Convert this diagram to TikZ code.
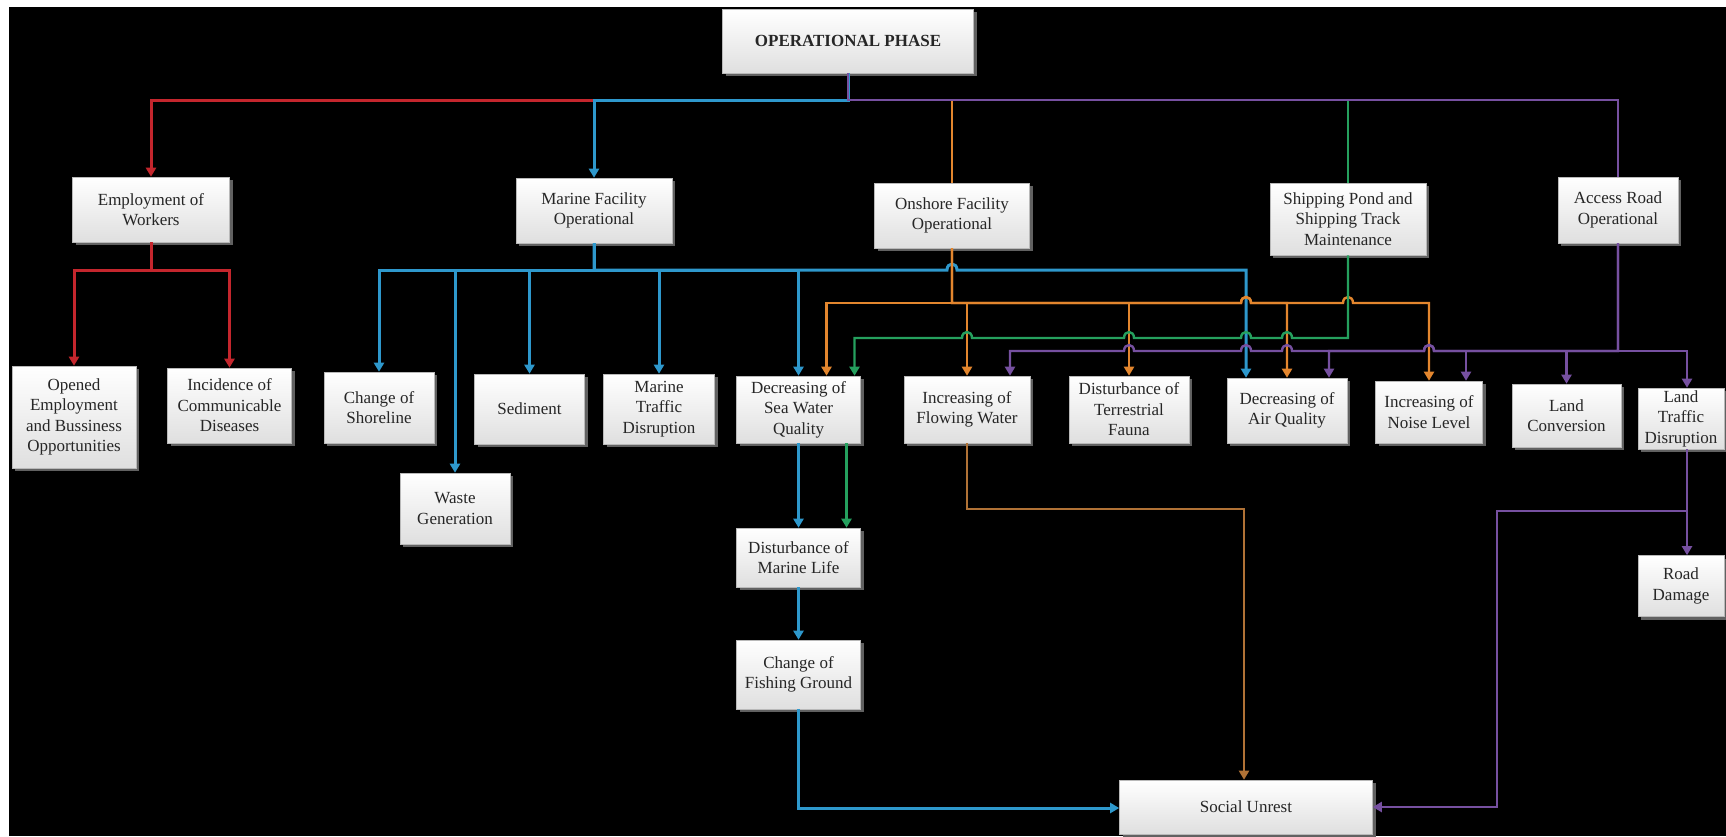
\documentclass[tikz,border=0pt]{standalone}
\usepackage{fontspec}
\setmainfont{Liberation Serif}
\usetikzlibrary{arrows.meta,shadows}
\definecolor{lred}{HTML}{C4262D}
\definecolor{lblue}{HTML}{2E98CC}
\definecolor{lorange}{HTML}{E3862E}
\definecolor{lgreen}{HTML}{25A05E}
\definecolor{lpurple}{HTML}{7650A0}
\definecolor{lbrown}{HTML}{B07236}
\definecolor{boxtext}{HTML}{262626}
\tikzset{
  hopR/.style args={#1/#2}{insert path={-- (#1-5,#2) .. controls (#1-5,#2-8) and (#1+5,#2-8) .. (#1+5,#2)}},
  hopL/.style args={#1/#2}{insert path={-- (#1+5,#2) .. controls (#1+5,#2-8) and (#1-5,#2-8) .. (#1-5,#2)}}
}
\begin{document}
\begin{tikzpicture}[x=1pt,y=-1pt,
  box/.style={draw=gray!55, line width=0.6pt, top color=white, bottom color=gray!25,
    text=boxtext, font=\fontsize{17}{20.5}\selectfont, align=center, inner sep=2pt,
    drop shadow={shadow xshift=3pt, shadow yshift=-3pt, fill=black!62!white, opacity=1}},
  arr/.style={-{Triangle[width=10pt,length=9pt]}},
  wred/.style={draw=lred, line width=3pt},
  wblue/.style={draw=lblue, line width=3pt},
  worange/.style={draw=lorange, line width=2.4pt},
  wgreen/.style={draw=lgreen, line width=2.4pt},
  wpurple/.style={draw=lpurple, line width=2.4pt},
  wbrown/.style={draw=lbrown, line width=2.2pt}]

% canvas
\useasboundingbox (0,0) rectangle (1726,836);
\fill[white] (0,0) rectangle (1726,836);
\fill[black] (9,7) rectangle (1726,836);

% boxes
\node[box, minimum width=251pt, minimum height=64pt] (op) at (848,41) {\textbf{OPERATIONAL PHASE}};
\node[box, minimum width=157pt, minimum height=65pt] (emp) at (151,209.5) {Employment of\\Workers};
\node[box, minimum width=156pt, minimum height=65pt] (mar) at (594,210.5) {Marine Facility\\Operational};
\node[box, minimum width=155pt, minimum height=65pt] (ons) at (952,215.5) {Onshore Facility\\Operational};
\node[box, minimum width=156pt, minimum height=72pt] (shp) at (1348,219) {Shipping Pond and\\Shipping Track\\Maintenance};
\node[box, minimum width=120pt, minimum height=66pt] (acc) at (1618,210) {Access Road\\Operational};

\node[box, minimum width=124pt, minimum height=102pt] (opn) at (74,417) {Opened\\Employment\\and Bussiness\\Opportunities};
\node[box, minimum width=124pt, minimum height=75pt] (inc) at (229.5,405.5) {Incidence of\\Communicable\\Diseases};
\node[box, minimum width=110pt, minimum height=71pt] (sho) at (379,407.5) {Change of\\Shoreline};
\node[box, minimum width=110pt, minimum height=70pt] (sed) at (529.5,409) {Sediment};
\node[box, minimum width=110pt, minimum height=71pt] (was) at (455,508.5) {Waste\\Generation};
\node[box, minimum width=111pt, minimum height=70pt] (mtd) at (659,409) {Marine\\Traffic\\Disruption};
\node[box, minimum width=124pt, minimum height=67pt] (swq) at (798.5,409.5) {Decreasing of\\Sea Water\\Quality};
\node[box, minimum width=126pt, minimum height=67pt] (flw) at (967,409.5) {Increasing of\\Flowing Water};
\node[box, minimum width=120pt, minimum height=67pt] (ter) at (1129,409.5) {Disturbance of\\Terrestrial\\Fauna};
\node[box, minimum width=120pt, minimum height=65pt] (air) at (1287,410.5) {Decreasing of\\Air Quality};
\node[box, minimum width=107pt, minimum height=62pt] (noi) at (1429,412) {Increasing of\\Noise Level};
\node[box, minimum width=109pt, minimum height=63pt] (lcv) at (1566.5,415.5) {Land\\Conversion};
\node[box, minimum width=86pt, minimum height=61pt] (ltd) at (1681,418.5) {Land\\Traffic\\Disruption};
\node[box, minimum width=86pt, minimum height=61pt] (rdm) at (1681,586) {Road\\Damage};
\node[box, minimum width=124pt, minimum height=59pt] (mlf) at (798.5,557.5) {Disturbance of\\Marine Life};
\node[box, minimum width=124pt, minimum height=69pt] (fsh) at (798.5,674.5) {Change of\\Fishing Ground};
\node[box, minimum width=253pt, minimum height=54pt] (soc) at (1246,807) {Social Unrest};

% first level
\coordinate (top) at (848,100);
\draw[wred, arr] (op.south) -- (top) -| (emp.north);
\draw[wblue, arr] (op.south) -- (top) -| (mar.north);
\draw[worange] (op.south) -- (top) -| (ons.north);
\draw[wgreen] (op.south) -- (top) -| (shp.north);
\draw[wpurple] (op.south) -- (top) -| (acc.north);

% employment branch
\coordinate (rj) at (151,270);
\draw[wred, arr] (emp.south) -- (rj) -| (opn.north);
\draw[wred, arr] (emp.south) -- (rj) -| (inc.north);

% marine facility branch
\coordinate (bj) at (594,270);
\draw[wblue, arr] (mar.south) -- (bj) -| (sho.north);
\draw[wblue, arr] (mar.south) -- (bj) -| (was.north);
\draw[wblue, arr] (mar.south) -- (bj) -| (sed.north);
\draw[wblue, arr] (mar.south) -- (bj) -| (mtd.north);
\draw[wblue, arr] (mar.south) -- (bj) -| (swq.north);
\draw[wblue, arr] (mar.south) -- (bj) [hopR=952/270] -| ([xshift=-41pt]air.north);

% onshore facility branch
\coordinate (oj) at (952,303);
\draw[worange, arr] (ons.south) -- (oj) -| ([xshift=28pt]swq.north);
\draw[worange, arr] (ons.south) -- (oj) -| (flw.north);
\draw[worange, arr] (ons.south) -- (oj) -| (ter.north);
\draw[worange, arr] (ons.south) -- (oj) [hopR=1246/303] -| (air.north);
\draw[worange, arr] (ons.south) -- (oj) [hopR=1246/303] [hopR=1348/303] -| (noi.north);

% shipping pond branch
\coordinate (gj) at (1348,338);
\draw[wgreen, arr] (shp.south) -- (gj) [hopL=1287/338] [hopL=1246/338] [hopL=1129/338] [hopL=967/338] -| ([xshift=56pt]swq.north);

% access road branch
\coordinate (pj) at (1618,351);
\draw[wpurple, arr] (acc.south) -- (pj) [hopL=1429/351] [hopL=1287/351] [hopL=1246/351] [hopL=1129/351] -| ([xshift=43pt]flw.north);
\draw[wpurple, arr] (acc.south) -- (pj) [hopL=1429/351] -| ([xshift=42pt]air.north);
\draw[wpurple, arr] (acc.south) -- (pj) -| ([xshift=37pt]noi.north);
\draw[wpurple, arr] (acc.south) -- (pj) -| (lcv.north);
\draw[wpurple, arr] (acc.south) -- (pj) -| ([xshift=6pt]ltd.north);

% secondary impacts
\draw[wblue, arr] (swq.south) -- (mlf.north);
\draw[wgreen, arr] ([xshift=48pt]swq.south) -- ([xshift=48pt]mlf.north);
\draw[wblue, arr] (mlf.south) -- (fsh.north);
\draw[wblue, arr] (fsh.south) |- ([yshift=-1pt]soc.west);
\draw[wbrown, arr] (flw.south) -- ++(0,66) -| ([xshift=-2pt]soc.north);
\coordinate (lj) at (1687,511);
\coordinate (lk) at (1497,511);
\draw[wpurple, arr] ([xshift=6pt]ltd.south) -- ([xshift=6pt]rdm.north);
\draw[wpurple, arr] ([xshift=6pt]ltd.south) -- (lj) -- (lk) |- (soc.east);
\end{tikzpicture}
\end{document}
